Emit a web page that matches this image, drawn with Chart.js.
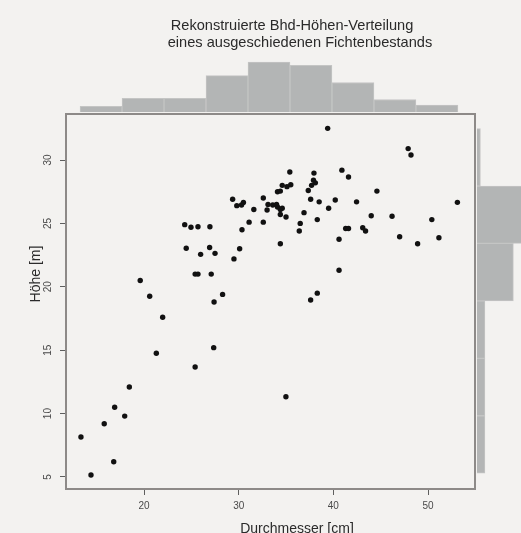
<!DOCTYPE html>
<html>
<head>
<meta charset="utf-8">
<title>Bhd-Höhen-Verteilung</title>
<script src="https://cdn.jsdelivr.net/npm/chart.js@4.4.0/dist/chart.umd.min.js"></script>
<style>
    body { margin: 0; width: 521px; height: 533px; overflow: hidden; position: relative; background: #f3f2f0; }
    canvas { position: absolute; }
    #main { left: 0; top: 0; }
    #topHist { left: 66px; top: 0; }
    #rightHist { left: 477px; top: 114px; }
</style>
</head>
<body>
<canvas id="main" width="521" height="533" style="width:521px;height:533px"></canvas>
<canvas id="topHist" width="409" height="112" style="width:409px;height:112px"></canvas>
<canvas id="rightHist" width="80" height="375" style="width:80px;height:375px"></canvas>
<script>
/* Data */
const diameters = [19.6, 20.6, 21.97, 24.3, 24.96, 25.7, 26.96, 24.46, 25.98, 26.93, 27.5, 25.4, 25.7, 27.1, 28.3, 27.4,
    29.36, 29.8, 30.5, 30.3, 31.6, 31.1, 30.35, 30.1, 29.5, 21.3, 25.4, 18.45, 16.9, 17.96, 15.8, 13.34, 16.8, 14.4,
    27.36, 34.99, 37.6, 38.3, 39.4, 35.4, 37.95, 40.9, 41.6, 37.9, 38.1, 37.7, 34.6, 35.1, 35.5, 34.1, 34.4, 37.35,
    44.6, 32.6, 33.1, 33.6, 34.0, 34.1, 33.0, 34.4, 34.6, 37.6, 38.5, 40.2, 42.45, 39.5, 34.4, 35.0, 36.9, 32.6, 38.3,
    44.0, 36.5, 36.4, 41.3, 41.6, 43.1, 43.4, 40.6, 34.4, 40.6, 47.9, 48.2, 53.1, 46.2, 50.4, 47.0, 48.9, 51.15];
const heights = [20.5, 19.25, 17.6, 24.9, 24.7, 24.74, 24.74, 23.04, 22.56, 23.1, 22.64, 21.0, 21.0, 21.0, 19.4, 18.8,
    26.9, 26.4, 26.65, 26.45, 26.1, 25.1, 24.5, 23.0, 22.2, 14.76, 13.67, 12.1, 10.5, 9.8, 9.2, 8.15, 6.2, 5.16,
    15.2, 11.33, 18.96, 19.5, 32.5, 29.05, 28.97, 29.2, 28.66, 28.4, 28.2, 28.0, 28.0, 27.9, 28.05, 27.5, 27.55, 27.6,
    27.55, 27.0, 26.5, 26.45, 26.5, 26.3, 26.06, 26.1, 26.2, 26.9, 26.7, 26.85, 26.7, 26.2, 25.7, 25.5, 25.85, 25.1, 25.3,
    25.6, 25.0, 24.4, 24.6, 24.6, 24.66, 24.4, 23.75, 23.4, 21.3, 30.9, 30.4, 26.66, 25.56, 25.3, 23.95, 23.4, 23.87];

const topHistBreaks = [13.24, 17.68, 22.11, 26.55, 30.98, 35.42, 39.85, 44.29, 48.72, 53.16];
const topHistCounts = [2.5, 6, 6, 16, 22, 20.5, 13, 5.5, 3];
const rightHistBreaks = [5.3, 9.83, 14.36, 18.89, 23.42, 27.95, 32.48];
const rightHistCounts = [3.5, 3.5, 3.5, 16, 24, 1.5];

const xRange = [11.76, 54.96];
const yRange = [4.05, 33.63];
const xTicks = [20, 30, 40, 50];
const yTicks = [5, 10, 15, 20, 25, 30];

const titleLines = ['Rekonstruierte Bhd-Höhen-Verteilung', 'eines ausgeschiedenen Fichtenbestands'];
const xTitle = 'Durchmesser [cm]';
const yTitle = 'Höhe [m]';

const fontFamily = '"Liberation Sans", Arial, sans-serif';

/* Plugins */
const plotFrame = {
    id: 'plotFrame',
    beforeDatasetsDraw(chart) {
        const a = chart.chartArea;
        const ctx = chart.ctx;
        ctx.save();
        ctx.strokeStyle = '#8d8a88';
        ctx.lineWidth = 2;
        ctx.strokeRect(a.left, a.top, a.right - a.left, a.bottom - a.top);
        ctx.restore();
    }
};

const plotTexts = {
    id: 'plotTexts',
    afterDraw(chart) {
        const ctx = chart.ctx;
        ctx.save();
        ctx.fillStyle = '#2a2a2a';
        ctx.textAlign = 'center';
        ctx.textBaseline = 'middle';
        ctx.font = '14.6px ' + fontFamily;
        ctx.fillText(titleLines[0], 292, 26);
        ctx.fillText(titleLines[1], 300, 43);
        ctx.font = '14px ' + fontFamily;
        ctx.textBaseline = 'alphabetic';
        ctx.fillText(xTitle, 297, 533);
        ctx.translate(36, 274);
        ctx.rotate(-Math.PI / 2);
        ctx.textBaseline = 'middle';
        ctx.fillText(yTitle, 0, 0);
        ctx.restore();
    }
};

function histData(breaks, counts, horizontal) {
    return counts.map(function (c, i) {
        const mid = (breaks[i] + breaks[i + 1]) / 2;
        return horizontal ? { x: c, y: mid } : { x: mid, y: c };
    });
}

/* Main scatter */
const points = diameters.map((d, i) => ({ x: d, y: heights[i] }));

new Chart(document.getElementById('main').getContext('2d'), {
    type: 'scatter',
    data: {
        datasets: [{
            data: points,
            backgroundColor: '#111111',
            borderColor: '#111111',
            borderWidth: 0,
            pointRadius: 2.7,
            pointHoverRadius: 2.7
        }]
    },
    options: {
        responsive: false,
        animation: false,
        events: [],
        layout: { padding: { top: 114, right: 46, left: 20, bottom: 0 } },
        plugins: { legend: { display: false }, tooltip: { enabled: false } },
        scales: {
            x: {
                type: 'linear',
                min: xRange[0],
                max: xRange[1],
                afterBuildTicks: (s) => { s.ticks = xTicks.map(v => ({ value: v })); },
                afterFit: (s) => { s.height = 44; },
                border: { display: false },
                grid: { drawOnChartArea: false, tickLength: 6, color: '#5e5e5e' },
                ticks: { padding: 5, color: '#4a4a4a', font: { size: 10, family: fontFamily }, maxRotation: 0 }
            },
            y: {
                type: 'linear',
                min: yRange[0],
                max: yRange[1],
                afterBuildTicks: (s) => { s.ticks = yTicks.map(v => ({ value: v })); },
                afterFit: (s) => { s.width = 46; },
                border: { display: false },
                grid: { drawOnChartArea: false, tickLength: 6, color: '#5e5e5e' },
                ticks: { padding: 6, crossAlign: 'center', minRotation: 90, maxRotation: 90, color: '#4a4a4a', font: { size: 10, family: fontFamily } }
            }
        }
    },
    plugins: [plotFrame, plotTexts]
});

/* Marginal histograms */
const histStyle = {
    backgroundColor: '#b3b5b5',
    borderColor: '#c4c5c4',
    borderWidth: 1,
    barPercentage: 1,
    categoryPercentage: 1
};

new Chart(document.getElementById('topHist').getContext('2d'), {
    type: 'bar',
    data: {
        datasets: [Object.assign({ data: histData(topHistBreaks, topHistCounts, false) }, histStyle)]
    },
    options: {
        responsive: false,
        animation: false,
        events: [],
        plugins: { legend: { display: false }, tooltip: { enabled: false } },
        scales: {
            x: {
                type: 'linear', min: xRange[0], max: xRange[1], display: false, offset: false,
                afterBuildTicks: (s) => { s.ticks = topHistBreaks.map(v => ({ value: v })); }
            },
            y: { min: 0, max: 49.3, display: false }
        }
    }
});

new Chart(document.getElementById('rightHist').getContext('2d'), {
    type: 'bar',
    data: {
        datasets: [Object.assign({ data: histData(rightHistBreaks, rightHistCounts, true) }, histStyle)]
    },
    options: {
        indexAxis: 'y',
        responsive: false,
        animation: false,
        events: [],
        plugins: { legend: { display: false }, tooltip: { enabled: false } },
        scales: {
            y: {
                type: 'linear', min: yRange[0], max: yRange[1], display: false, offset: false,
                afterBuildTicks: (s) => { s.ticks = rightHistBreaks.map(v => ({ value: v })); }
            },
            x: { min: 0, max: 35.2, display: false }
        }
    }
});
</script>
</body>
</html>
